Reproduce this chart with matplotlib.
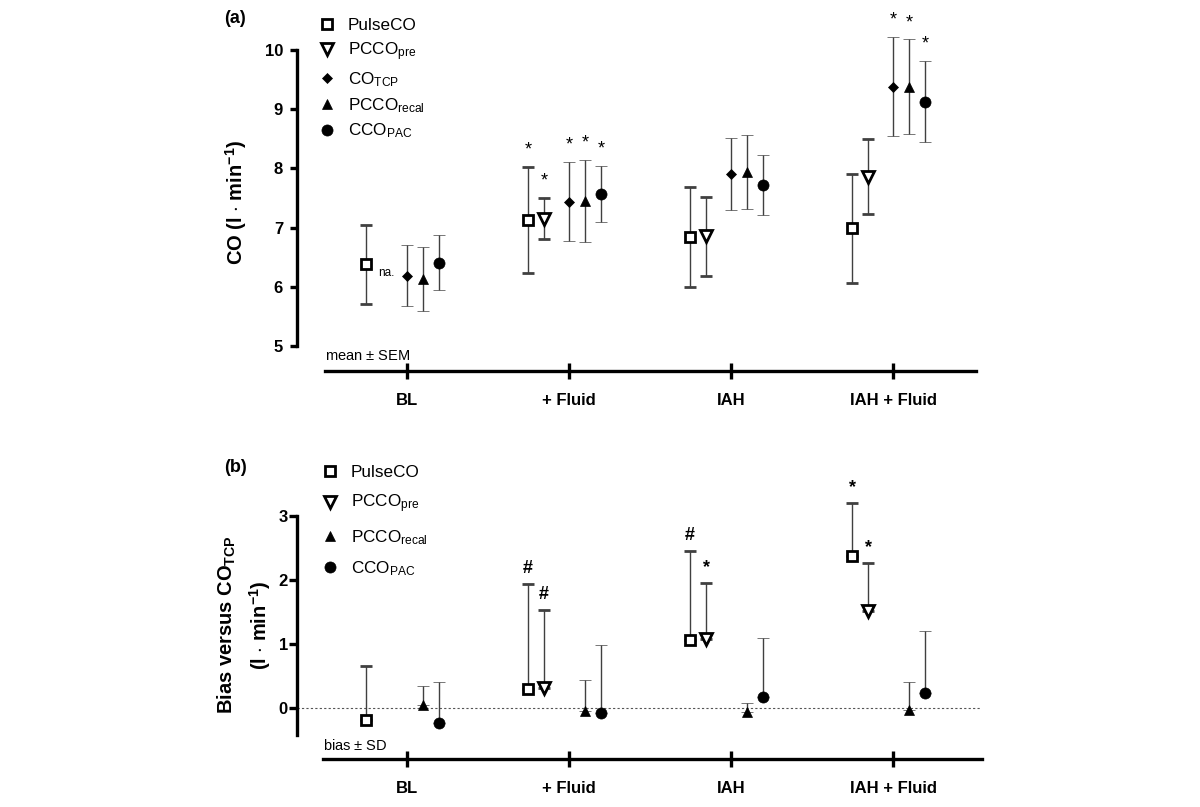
import numpy as np
import matplotlib.pyplot as plt
from matplotlib.lines import Line2D

plt.rcParams['font.family'] = ['Liberation Sans', 'DejaVu Sans']
plt.rcParams['mathtext.fontset'] = 'custom'
plt.rcParams['mathtext.rm'] = 'Liberation Sans'

# ---------------------------------------------------------------
# Data
# ---------------------------------------------------------------
categories = ['BL', '+ Fluid', 'IAH', 'IAH + Fluid']

# (a) CO, mean +/- SEM
pulseco_mean = [6.38, 7.13, 6.84, 6.99]
pulseco_sem = [0.67, 0.90, 0.85, 0.92]
pcco_pre_mean = [np.nan, 7.15, 6.85, 7.86]
pcco_pre_sem = [np.nan, 0.35, 0.66, 0.63]
cotcp_mean = [6.19, 7.44, 7.91, 9.38]
cotcp_sem = [0.52, 0.67, 0.61, 0.84]
pcco_recal_mean = [6.13, 7.45, 7.94, 9.38]
pcco_recal_sem = [0.54, 0.70, 0.62, 0.80]
cco_pac_mean = [6.41, 7.57, 7.72, 9.13]
cco_pac_sem = [0.47, 0.47, 0.51, 0.69]

# stars in (a): (category, series)
stars_a = [(1, 'pulse'), (1, 'pre'), (1, 'tcp'), (1, 'recal'), (1, 'pac'),
           (3, 'tcp'), (3, 'recal'), (3, 'pac')]

# (b) bias versus CO_TCP, bias + SD
pulseco_bias = [-0.19, 0.30, 1.06, 2.37]
pulseco_sd = [0.84, 1.64, 1.39, 0.84]
pcco_pre_bias = [np.nan, 0.31, 1.08, 1.52]
pcco_pre_sd = [np.nan, 1.22, 0.88, 0.74]
pcco_recal_bias = [0.04, -0.04, -0.06, -0.03]
pcco_recal_sd = [0.30, 0.48, 0.14, 0.43]
cco_pac_bias = [-0.24, -0.08, 0.17, 0.23]
cco_pac_sd = [0.64, 1.06, 0.93, 0.98]

# marks in (b): (category, series, symbol)
marks_b = [(1, 'pulse', '#'), (1, 'pre', '#'), (2, 'pulse', '#'), (2, 'pre', '*'),
           (3, 'pulse', '*'), (3, 'pre', '*')]

# ---------------------------------------------------------------
# Styles
# ---------------------------------------------------------------
x = np.arange(len(categories))
offsets = {'pulse': -0.253, 'pre': -0.154, 'tcp': 0.0, 'recal': 0.099, 'pac': 0.198}
styles = {
    'pulse': dict(marker='s', ms=7.5, mfc='white', mec='black', mew=2),
    'pre': dict(marker='v', ms=8.5, mfc='white', mec='black', mew=2),
    'tcp': dict(marker='D', ms=5.5, mfc='black', mec='black', mew=0.5),
    'recal': dict(marker='^', ms=7, mfc='black', mec='black', mew=0.5),
    'pac': dict(marker='o', ms=8, mfc='black', mec='black', mew=0.5),
}
ecolor = '#404040'
labels = {
    'pulse': 'PulseCO',
    'pre': r'PCCO$\mathregular{_{pre}}$',
    'tcp': r'CO$\mathregular{_{TCP}}$',
    'recal': r'PCCO$\mathregular{_{recal}}$',
    'pac': r'CCO$\mathregular{_{PAC}}$',
}

fig = plt.figure(figsize=(12, 8.07), dpi=100)
W, H = 1200, 807

def add_axes_px(left, right, top, bottom):
    return fig.add_axes([left / W, 1 - bottom / H, (right - left) / W, (bottom - top) / H])

# px mapping: x -> category units (162 px per category, BL at 407 px)
xl = (297 - 407) / 162
xr = (985 - 407) / 162

# ---------------------------------------------------------------
# (a)
# ---------------------------------------------------------------
ax1 = add_axes_px(297, 985, 346 - 5.6 * 59.2, 346 + 0.5 * 59.2)
ax1.set_xlim(xl, xr)
ax1.set_ylim(4.5, 10.6)

data_a = {
    'pulse': (pulseco_mean, pulseco_sem),
    'pre': (pcco_pre_mean, pcco_pre_sem),
    'tcp': (cotcp_mean, cotcp_sem),
    'recal': (pcco_recal_mean, pcco_recal_sem),
    'pac': (cco_pac_mean, cco_pac_sem),
}
for key, (m, e) in data_a.items():
    ax1.errorbar(x + offsets[key], m, yerr=e, ls='none', ecolor=ecolor,
                 elinewidth=1.0, capsize=4.3, capthick=1.0, color='black',
                 **styles[key])

for ci, key in stars_a:
    m, e = data_a[key]
    ax1.annotate('*', (x[ci] + offsets[key], m[ci] + e[ci]), xytext=(0, 6),
                 textcoords='offset points', ha='center', va='bottom',
                 fontsize=13, annotation_clip=False)

ax1.text(-0.179, 6.23, 'na.', fontsize=8.5, va='center', ha='left')
ax1.text(-0.506, 4.83, r'mean $\pm$ SEM', fontsize=10.5, va='center', ha='left')
ax1.text(-0.09, 0.99, '(a)', transform=ax1.transAxes, fontsize=13,
         fontweight='bold', va='center', ha='center')

ax1.spines['top'].set_visible(False)
ax1.spines['right'].set_visible(False)
ax1.spines['left'].set_bounds(5, 10)
ax1.spines['bottom'].set_position(('data', 5 - 25 / 59.2))
ax1.spines['bottom'].set_bounds((325 - 407) / 162, (976 - 407) / 162)
for s in ax1.spines.values():
    s.set_linewidth(2.4)
ax1.set_yticks([5, 6, 7, 8, 9, 10])
ax1.set_xticks(x)
ax1.set_xticklabels(categories, fontsize=12, fontweight='bold')
for t in ax1.get_yticklabels():
    t.set_fontweight('bold')
ax1.tick_params(axis='y', direction='out', length=5, width=2.4, pad=5, labelsize=12)
ax1.tick_params(axis='x', direction='inout', length=12, width=2.4, pad=10)
ax1.set_ylabel(r'CO (l $\cdot$ min$\mathregular{^{-1}}$)', fontsize=14.5,
               fontweight='bold')
ax1.yaxis.set_label_coords((249 - 297) / (985 - 297), 0.48)

handles_a = [Line2D([], [], ls='none', color='black', **styles[k]) for k in data_a]
ax1.legend(handles_a, [labels[k] for k in data_a], loc='upper left',
           bbox_to_anchor=(318 / W, 1 - 18 / H), bbox_transform=fig.transFigure,
           frameon=False, fontsize=12.3, handlelength=1.0, handletextpad=0.75,
           labelspacing=0.42, borderpad=0, borderaxespad=0)

# ---------------------------------------------------------------
# (b)
# ---------------------------------------------------------------
ax2 = add_axes_px(297, 985, 708 - 3.3 * 64, 708 + 0.85 * 64)
ax2.set_xlim(xl, xr)
ax2.set_ylim(-0.85, 3.3)

ax2.axhline(0, xmin=0, xmax=(980 - 297) / (985 - 297), color='#555555',
            lw=0.8, ls=(0, (2, 2)), zorder=0)

data_b = {
    'pulse': (pulseco_bias, pulseco_sd),
    'pre': (pcco_pre_bias, pcco_pre_sd),
    'recal': (pcco_recal_bias, pcco_recal_sd),
    'pac': (cco_pac_bias, cco_pac_sd),
}
for key, (m, e) in data_b.items():
    ax2.errorbar(x + offsets[key], m, yerr=[np.zeros(len(e)), e], ls='none',
                 ecolor=ecolor, elinewidth=1.0, capsize=4.3, capthick=1.0,
                 color='black', **styles[key])

for ci, key, sym in marks_b:
    m, e = data_b[key]
    ax2.annotate(sym, (x[ci] + offsets[key], m[ci] + e[ci]), xytext=(0, 5),
                 textcoords='offset points', ha='center', va='bottom',
                 fontsize=13, fontweight='bold', annotation_clip=False)

ax2.text((323 - 407) / 162, -0.58, r'bias $\pm$ SD', fontsize=10.5, va='center', ha='left')
ax2.text(-0.09, 1.11, '(b)', transform=ax2.transAxes, fontsize=13,
         fontweight='bold', va='center', ha='center')

ax2.spines['top'].set_visible(False)
ax2.spines['right'].set_visible(False)
ax2.spines['left'].set_bounds(-0.42, 3)
ax2.spines['bottom'].set_position(('data', -0.797))
ax2.spines['bottom'].set_bounds((323 - 407) / 162, (982 - 407) / 162)
for s in ax2.spines.values():
    s.set_linewidth(2.4)
ax2.set_yticks([0, 1, 2, 3])
ax2.set_xticks(x)
ax2.set_xticklabels(categories, fontsize=12, fontweight='bold')
for t in ax2.get_yticklabels():
    t.set_fontweight('bold')
ax2.tick_params(axis='y', direction='out', length=5.5, width=2.4, pad=1, labelsize=12)
ax2.tick_params(axis='x', direction='inout', length=12, width=2.4, pad=10)
ax2.set_ylabel('Bias versus CO$\\mathregular{_{TCP}}$\n(l $\\cdot$ min$\\mathregular{^{-1}}$)',
               fontsize=14.5, fontweight='bold', linespacing=1.45)
ax2.yaxis.set_label_coords((273 - 297) / (985 - 297), (708 - 625) / (4.15 * 64) + 0.85 / 4.15)

handles_b = [Line2D([], [], ls='none', color='black', **styles[k]) for k in data_b]
ax2.legend(handles_b, [labels[k] for k in data_b], loc='upper left',
           bbox_to_anchor=(321 / W, 1 - 465 / H), bbox_transform=fig.transFigure,
           frameon=False, fontsize=12.3, handlelength=1.0, handletextpad=0.75,
           labelspacing=0.74, borderpad=0, borderaxespad=0)

plt.savefig('out.png', dpi=100)
